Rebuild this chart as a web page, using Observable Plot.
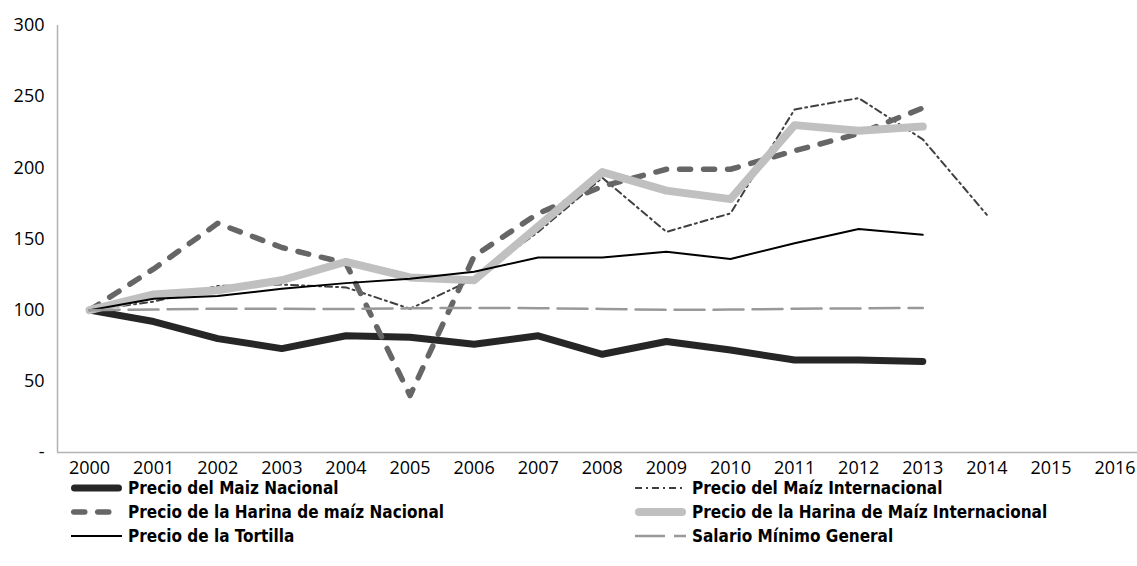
<!DOCTYPE html>
<html>
<head>
<meta charset="utf-8">
<script src="https://cdn.jsdelivr.net/npm/d3@7"></script>
<script src="https://cdn.jsdelivr.net/npm/@observablehq/plot@0.6"></script>
<style>
  html, body { margin: 0; padding: 0; background: #fff; }
  #chart svg { display: block; }
  #legend { position: relative; width: 1137px; height: 84px; margin-top: -6px; font-family: "Liberation Sans Narrow", "DejaVu Sans Condensed", sans-serif; font-weight: bold; font-size: 17px; color: #000; }
  .item { position: absolute; display: flex; align-items: center; height: 24px; white-space: nowrap; }
  .item svg { margin-right: 4px; flex: none; }
</style>
</head>
<body>
<div id="chart"></div>
<div id="legend"></div>
<script>
const years = [2000, 2001, 2002, 2003, 2004, 2005, 2006, 2007, 2008, 2009, 2010, 2011, 2012, 2013, 2014];
const tickYears = [2000, 2001, 2002, 2003, 2004, 2005, 2006, 2007, 2008, 2009, 2010, 2011, 2012, 2013, 2014, 2015, 2016];
const yTicks = [0, 50, 100, 150, 200, 250, 300];

const maizNacional        = [100, 92, 80, 73, 82, 81, 76, 82, 69, 78, 72, 65, 65, 64];
const maizInternacional   = [100, 106, 117, 118, 116, 101, 122, 155, 193, 155, 168, 241, 249, 220, 167];
const harinaNacional      = [100, 129, 161, 144, 133, 40, 138, 168, 187, 199, 199, 212, 224, 242];
const harinaInternacional = [100, 111, 114, 121, 134, 123, 121, 159, 197, 184, 178, 230, 226, 229];
const tortilla            = [100, 108, 110, 115, 119, 122, 127, 137, 137, 141, 136, 147, 157, 153];
const salario             = [100, 100.5, 101, 101, 100.8, 101.3, 101.6, 101.4, 100.9, 100.2, 100.4, 101, 101.2, 101.6];

const seriesNames = [
  "Precio del Maiz Nacional",
  "Precio del Maíz Internacional",
  "Precio de la Harina de maíz Nacional",
  "Precio de la Harina de Maíz Internacional",
  "Precio de la Tortilla",
  "Salario Mínimo General"
];
const seriesValues = [maizNacional, maizInternacional, harinaNacional, harinaInternacional, tortilla, salario];

// styles (separate from data)
const styles = [
  {stroke: "#262626", strokeWidth: 7, strokeLinecap: "round", strokeLinejoin: "round"},
  {stroke: "#404040", strokeWidth: 2, strokeDasharray: "7,4,2,4"},
  {stroke: "#666666", strokeWidth: 5.5, strokeDasharray: "11,13", strokeLinecap: "round", strokeLinejoin: "round"},
  {stroke: "#c0c0c0", strokeWidth: 8, strokeLinecap: "round", strokeLinejoin: "round"},
  {stroke: "#000000", strokeWidth: 2},
  {stroke: "#999999", strokeWidth: 2.5, strokeDasharray: "30,9"}
];

const tables = seriesValues.map((vals, i) =>
  vals.map((v, j) => ({year: years[j], value: v, series: seriesNames[i]})));

const xDomain = [1999.5, 2016.35];

const chart = Plot.plot({
  width: 1137,
  height: 482,
  marginLeft: 57,
  marginRight: 0,
  marginTop: 25,
  marginBottom: 30,
  style: {fontFamily: "'Open Sans', sans-serif", fontSize: "18px", color: "#000", background: "#fff"},
  x: {type: "linear", domain: xDomain, ticks: tickYears, tickFormat: d => String(d), tickSize: 0, tickPadding: 9, label: null},
  y: {domain: [0, 300], ticks: yTicks, tickFormat: d => d === 0 ? "-" : String(d), tickSize: 0, tickPadding: 13, label: null},
  marks: [
    Plot.ruleY([0], {x1: xDomain[0], x2: xDomain[1], stroke: "#b3b3b3", strokeWidth: 1.5}),
    Plot.ruleX([xDomain[0]], {y1: 0, y2: 300, stroke: "#b3b3b3", strokeWidth: 1.5}),
    ...tables.map((t, i) => Plot.line(t, {x: "year", y: "value", ...styles[i]}))
  ]
});
document.getElementById("chart").appendChild(chart);

// legend (HTML below the SVG)
const legend = document.getElementById("legend");
const positions = [
  {left: 69, top: 0}, {left: 633, top: 0},
  {left: 69, top: 24}, {left: 633, top: 24},
  {left: 69, top: 48}, {left: 633, top: 48}
];
seriesNames.forEach((name, i) => {
  const item = document.createElement("div");
  item.className = "item";
  item.style.left = positions[i].left + "px";
  item.style.top = positions[i].top + "px";
  const s = styles[i];
  const ns = "http://www.w3.org/2000/svg";
  const svg = document.createElementNS(ns, "svg");
  svg.setAttribute("width", 55);
  svg.setAttribute("height", 12);
  const ln = document.createElementNS(ns, "line");
  const pad = s.strokeLinecap === "round" ? s.strokeWidth / 2 : 0;
  ln.setAttribute("x1", 2 + pad);
  ln.setAttribute("x2", 53 - pad);
  ln.setAttribute("y1", 6);
  ln.setAttribute("y2", 6);
  ln.setAttribute("stroke", s.stroke);
  ln.setAttribute("stroke-width", s.strokeWidth);
  if (s.strokeDasharray) ln.setAttribute("stroke-dasharray", s.strokeDasharray);
  if (s.strokeLinecap) ln.setAttribute("stroke-linecap", s.strokeLinecap);
  svg.appendChild(ln);
  item.appendChild(svg);
  const span = document.createElement("span");
  span.textContent = name;
  item.appendChild(span);
  legend.appendChild(item);
});
</script>
</body>
</html>
